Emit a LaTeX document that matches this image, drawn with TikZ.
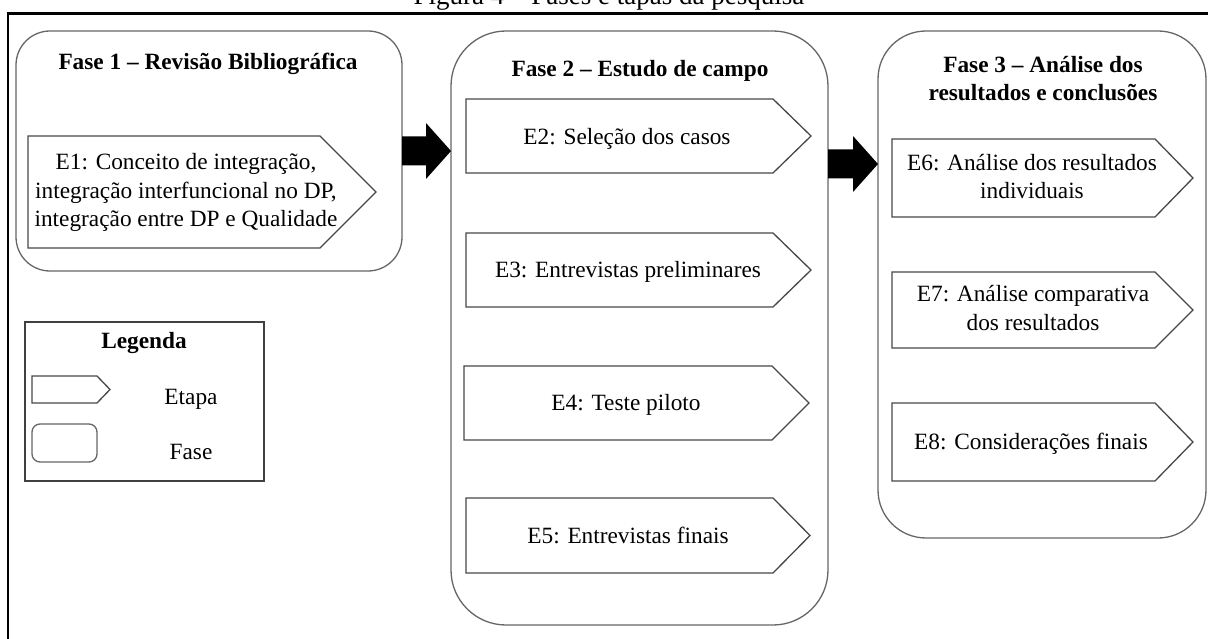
\documentclass[tikz,border=0pt]{standalone}
\usepackage{fontspec}
\setmainfont{Liberation Serif}
\usetikzlibrary{calc}
\tikzset{
  fasebox/.style={draw=black!60, line width=1.3pt, fill=white, inner sep=0pt, outer sep=0pt},
  etapaline/.style={draw=black!72, line width=1.3pt, fill=white, line join=miter},
  lbl/.style={font=\fontsize{23.3}{28.5}\selectfont, inner sep=0pt, anchor=base, align=center},
  ttl/.style={lbl, font=\bfseries\fontsize{23.3}{28}\selectfont},
  blk/.style={fill=black},
}
\newcommand\etapashape[6]{%
  \draw[etapaline] (#2,#3) -- (#4,#3) -- (#6,{(#3+#5)/2}) -- (#4,#5) -- (#2,#5) -- cycle;
  \coordinate (#1) at ({(#2+#4)/2},{(#3+#5)/2});
}
\newcommand\blockarrow[2]{%
  \fill[blk] ($(#1)+(0,-14.5)$) -- ($(#2)+(-25,-14.5)$) -- ($(#2)+(-25,-28)$) -- (#2)
    -- ($(#2)+(-25,28)$) -- ($(#2)+(-25,14.5)$) -- ($(#1)+(0,14.5)$) -- cycle;}
\begin{document}
\begin{tikzpicture}[x=1pt,y=-1pt]
\useasboundingbox (0,0) rectangle (1208,639);
\clip (0,0) rectangle (1208,639);
% caption (cut off at the top, as in the reference)
\node[lbl, font=\fontsize{27}{30}\selectfont] (title) at (609,5) {Figura 4 – Fases e tapas da pesquisa};
% outer frame (continues beyond the image)
\draw[line width=2.5pt] (8,700) -- (8,13.5) -- (1250,13.5);

% phases
\node[fasebox, rounded corners=34pt, minimum width=386pt, minimum height=240pt] (f1) at (209,151) {};
\node[fasebox, rounded corners=55pt, minimum width=377pt, minimum height=594pt] (f2) at (639.5,328) {};
\node[fasebox, rounded corners=48pt, minimum width=328pt, minimum height=507pt] (f3) at (1042,284.5) {};

\node[ttl] (f1t) at (208,70) {Fase 1 – Revisão Bibliográfica};
\node[ttl] (f2t) at (640,77) {Fase 2 – Estudo de campo};
\node[ttl] (f3t) at (1043,101) {Fase 3 – Análise dos\\resultados e conclusões};

% steps
\etapashape{e1}{28}{136}{320}{248}{376}
\node[lbl] (e1t) at (186,227) {E1: Conceito de integração,\\integração interfuncional no DP,\\integração entre DP e Qualidade};
\etapashape{e2}{466}{99}{773}{173}{811}
\node[lbl] (e2t) at (627,145) {E2: Seleção dos casos};
\etapashape{e3}{466}{233}{773}{307}{811}
\node[lbl] (e3t) at (628,278) {E3: Entrevistas preliminares};
\etapashape{e4}{464}{366}{772}{440}{809}
\node[lbl] (e4t) at (626,410) {E4: Teste piloto};
\etapashape{e5}{466}{498}{773}{573}{810}
\node[lbl] (e5t) at (628,543) {E5: Entrevistas finais};
\etapashape{e6}{892}{139}{1155}{217}{1193}
\node[lbl] (e6t) at (1032,199) {E6: Análise dos resultados\\individuais};
\etapashape{e7}{892}{272}{1155}{348}{1193}
\node[lbl] (e7t) at (1033,330) {E7: Análise comparativa\\dos resultados};
\etapashape{e8}{892}{403}{1155}{481}{1193}
\node[lbl] (e8t) at (1031,449) {E8: Considerações finais};

% block arrows between phases
\coordinate (a1s) at (f1.east);
\path (f2.west |- f1.east) coordinate (a1e);
\coordinate (a2y) at (0,164);
\path (f2.east |- a2y) coordinate (a2s);
\path (f3.west |- a2y) coordinate (a2e);
\blockarrow{a1s}{a1e}
\blockarrow{a2s}{a2e}

% legend
\node[draw=black!75, line width=1.3pt, inner sep=0pt, minimum width=239pt, minimum height=159pt] (leg) at (144.5,401.5) {};
\node[ttl] (legt) at (144,348) {Legenda};
\etapashape{le}{32}{376}{97}{403}{110}
\node[lbl] (let) at (191,404) {Etapa};
\node[fasebox, rounded corners=8pt, minimum width=65pt, minimum height=38pt] (lf) at (64.5,443) {};
\node[lbl] (lft) at (191,459) {Fase};
\end{tikzpicture}
\end{document}
